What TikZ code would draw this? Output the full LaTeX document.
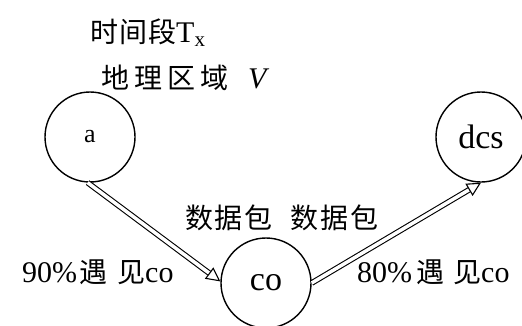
\documentclass[tikz,border=0pt]{standalone}
\usepackage{fontspec}
\setmainfont{Liberation Serif}
\newfontfamily\cjk{Noto Sans CJK SC}
\usetikzlibrary{arrows.meta}
\newcommand{\cjkt}[1]{{\cjk\fontsize{28}{28}\selectfont #1}}
\begin{document}
\begin{tikzpicture}[x=1pt,y=-1pt,
  state/.style={circle,draw,line width=1.4pt,minimum size=90pt,inner sep=0pt,font=\fontsize{34}{34}\selectfont},
  lbl/.style={font=\fontsize{30}{30}\selectfont,inner sep=0pt},
  dblarrow/.style={double,double distance=3.5pt,line width=1.1pt,-{Triangle[open,length=14pt,width=14pt]}}]
\useasboundingbox (0,0) rectangle (522,325);
\node[state] (a) at (90,137) {\fontsize{26}{26}\selectfont a};
\node[state] (co) at (266,283) {co};
\node[state] (dcs) at (481,137) {dcs};
\node[lbl,anchor=west] (t1) at (90,33) {\cjkt{时\kern1pt 间\kern1pt 段}T\textsubscript{x}};
\node[lbl,anchor=west] (t2) at (101,78) {\cjkt{地\kern5pt 理\kern5pt 区\kern5pt 域}\kern20pt\textit{V}};
\node[lbl] (t3) at (282,218) {\cjkt{数\kern2pt 据\kern2pt 包\kern18pt 数\kern2pt 据\kern2pt 包}};
\node[lbl,anchor=west] (t4) at (22,272) {90\%\kern2pt\cjkt{遇\kern10pt 见}co};
\node[lbl,anchor=west] (t5) at (357,272) {80\%\kern4pt\cjkt{遇\kern9pt 见}co};
\draw[dblarrow] (a.-93) -- (co.178);
\draw[dblarrow] (co.east) -- (dcs.south);
\end{tikzpicture}
\end{document}
